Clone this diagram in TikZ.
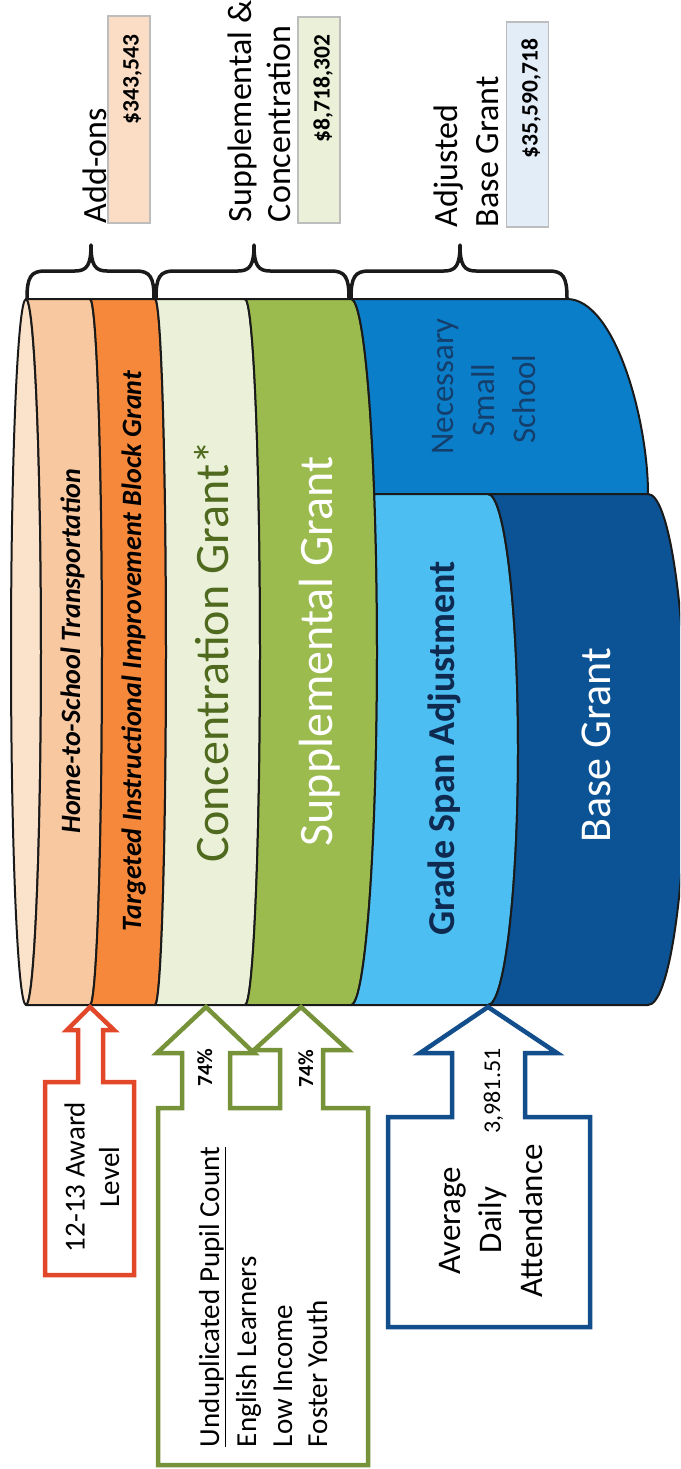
\documentclass[tikz,border=0pt]{standalone}
\usepackage{fontspec}
\setmainfont{Carlito}
\definecolor{capfill}{HTML}{FBE2CB}
\definecolor{homefill}{HTML}{F8C8A0}
\definecolor{tibgfill}{HTML}{F5883A}
\definecolor{concfill}{HTML}{EBF0D9}
\definecolor{suppfill}{HTML}{9BBB4F}
\definecolor{nssfill}{HTML}{0B7ECA}
\definecolor{gsfill}{HTML}{4DBEF1}
\definecolor{bgfill}{HTML}{0B5394}
\definecolor{concgreen}{HTML}{4F6A1E}
\definecolor{nsstext}{HTML}{143F6C}
\definecolor{gstext}{HTML}{0E2A50}
\definecolor{arrowred}{HTML}{E2472A}
\definecolor{arrowgreen}{HTML}{76933A}
\definecolor{arrowblue}{HTML}{124E8B}
\definecolor{addbox}{HTML}{FADDC4}
\definecolor{suppbox}{HTML}{EAF1D8}
\definecolor{basebox}{HTML}{E3EDF8}
\definecolor{boxedge}{HTML}{BDBDBD}
\definecolor{edgecol}{HTML}{1A1A1A}
\newcommand{\fsz}[1]{\fontsize{#1}{#1}\selectfont}
\tikzset{
  vtext/.style={rotate=90, inner sep=0pt, outer sep=0pt},
  band/.style={draw=edgecol, line width=2pt, line join=round},
  brc/.style={draw=edgecol, line width=3.5pt, line cap=round, line join=round},
  valbox/.style={draw=boxedge, line width=1.2pt},
  callout/.style={fill=white, line width=4.5pt, line join=miter},
}
\begin{document}
\begin{tikzpicture}[x=1pt,y=-1pt]
\useasboundingbox (0,0) rectangle (680,1469);
\fill[white] (0,0) rectangle (680,1469);
\clip (0,0) rectangle (680,1469);

% ---------- cylinder ----------
\path[band, fill=capfill] (26,652) ellipse [x radius=15, y radius=353];
\path[band, fill=homefill] (26,299) -- (90,299) arc[start angle=-90, end angle=90, x radius=12, y radius=353]
  -- (26,1005) arc[start angle=90, end angle=-90, x radius=15, y radius=353] -- cycle;
\path[band, fill=tibgfill] (90,299) -- (155,299) arc[start angle=-90, end angle=90, x radius=11, y radius=353]
  -- (90,1005) arc[start angle=90, end angle=-90, x radius=12, y radius=353] -- cycle;
\path[band, fill=concfill] (155,299) -- (245,299) arc[start angle=-90, end angle=90, x radius=15, y radius=353]
  -- (155,1005) arc[start angle=90, end angle=-90, x radius=11, y radius=353] -- cycle;
\path[band, fill=suppfill] (245,299) -- (351,299) arc[start angle=-90, end angle=90, x radius=26, y radius=353]
  -- (245,1005) arc[start angle=90, end angle=-90, x radius=15, y radius=353] -- cycle;
\path[band, fill=nssfill] (351,299) -- (567,299) .. controls (615,299) and (648,420) .. (648,494)
  -- (374.25,494) arc[start angle=-26.59, end angle=-90, x radius=26, y radius=353] -- cycle;
\path[band, fill=gsfill] (374.25,494) -- (488,494) arc[start angle=-90, end angle=90, x radius=30, y radius=255.5]
  -- (351,1005) arc[start angle=90, end angle=-26.59, x radius=26, y radius=353] -- cycle;
\path[band, fill=bgfill] (488,494) -- (648,494) arc[start angle=-90, end angle=90, x radius=38, y radius=255.5]
  -- (488,1005) arc[start angle=90, end angle=-90, x radius=30, y radius=255.5] -- cycle;

% band labels
\node[vtext, anchor=base, font=\bfseries\itshape\fsz{28}] (home) at (80,651) {Home-to-School Transportation};
\node[vtext, anchor=base, font=\bfseries\itshape\fsz{28}] (tiibg) at (141,651) {Targeted Instructional Improvement Block Grant};
\node[vtext, anchor=base, font=\fsz{48}, text=concgreen] (conc) at (228,651.5) {Concentration Grant*};
\node[vtext, anchor=base, font=\fsz{48}, text=white] (supp) at (332,651.5) {Supplemental Grant};
\node[vtext, anchor=base, font=\fsz{33}, text=nsstext] (nss1) at (453,386.5) {Necessary};
\node[vtext, anchor=base, font=\fsz{33}, text=nsstext] (nss2) at (494,400) {Small};
\node[vtext, anchor=base, font=\fsz{33}, text=nsstext] (nss3) at (535,399) {School};
\node[vtext, anchor=base, font=\bfseries\fsz{38}, text=gstext] (gs) at (454,748.5) {Grade Span Adjustment};
\node[vtext, anchor=base, font=\fsz{44}, text=white] (bg) at (610,745) {Base Grant};

% ---------- braces ----------
\draw[brc] (27,298) .. controls (27,277) and (31,271) .. (45,271) -- (75,271)
  .. controls (87,271) and (91,265) .. (91,245) .. controls (91,265) and (95,271) .. (107,271)
  -- (136,271) .. controls (150,271) and (154,277) .. (154,298);
\draw[brc] (156,298) .. controls (156,277) and (160,271) .. (174,271) -- (238,271)
  .. controls (250,271) and (254,265) .. (254,245) .. controls (254,265) and (258,271) .. (270,271)
  -- (331,271) .. controls (345,271) and (349,277) .. (349,298);
\draw[brc] (351,298) .. controls (351,277) and (355,271) .. (369,271) -- (444,271)
  .. controls (456,271) and (460,265) .. (460,245) .. controls (460,265) and (464,271) .. (476,271)
  -- (549,271) .. controls (563,271) and (567,277) .. (567,298);

% ---------- top labels and values ----------
\node[vtext, anchor=base west, font=\fsz{34}] (addons) at (106,223) {Add-ons};
\draw[valbox, fill=addbox] (108,16) rectangle (150,223);
\node[vtext, anchor=base east, font=\bfseries\fsz{23.5}] (v1) at (138.5,35) {\$343,543};

\node[vtext, anchor=base west, font=\fsz{34}] (sc1) at (251,222) {Supplemental \&};
\node[vtext, anchor=base west, font=\fsz{34}] (sc2) at (290,222) {Concentration};
\draw[valbox, fill=suppbox] (298,17) rectangle (340,223);
\node[vtext, anchor=base east, font=\bfseries\fsz{23.5}] (v2) at (329.5,35) {\$8,718,302};

\node[vtext, anchor=base west, font=\fsz{34}] (ab1) at (457,227) {Adjusted};
\node[vtext, anchor=base west, font=\fsz{34}] (ab2) at (498.5,227) {Base Grant};
\draw[valbox, fill=basebox] (506.5,22) rectangle (548.5,227);
\node[vtext, anchor=base east, font=\bfseries\fsz{23.5}] (v3) at (537.5,39) {\$35,590,718};

% ---------- bottom callouts ----------
\path[callout, draw=arrowred] (45,1275) -- (45,1082) -- (78,1082) -- (78,1030) -- (67,1030) -- (90,1007)
  -- (114,1030) -- (103,1030) -- (103,1082) -- (134,1082) -- (134,1275) -- cycle;
\node[vtext, anchor=base, font=\fsz{29}] (aw1) at (84.5,1177) {12-13 Award};
\node[vtext, anchor=base, font=\fsz{29}] (aw2) at (119,1177) {Level};

\path[callout, draw=arrowgreen] (158,1465) -- (158,1108) -- (182,1108) -- (182,1053) -- (157,1053) -- (206,1007)
  -- (254,1053) -- (230,1053) -- (230,1108) -- (280,1108) -- (280,1050) -- (254,1050) -- (301,1007)
  -- (348,1050) -- (323,1050) -- (323,1108) -- (368,1108) -- (368,1465) -- cycle;
\node[vtext, anchor=base, font=\bfseries\fsz{21.5}] (p1) at (212,1068) {74\%};
\node[vtext, anchor=base, font=\bfseries\fsz{21.5}] (p2) at (313,1069) {74\%};
\node[vtext, anchor=base west, font=\fsz{29}] (u1) at (219,1447) {\underline{Unduplicated Pupil Count}};
\node[vtext, anchor=base west, font=\fsz{29}] (u2) at (256,1447) {English Learners};
\node[vtext, anchor=base west, font=\fsz{29}] (u3) at (292,1447) {Low Income};
\node[vtext, anchor=base west, font=\fsz{29}] (u4) at (327,1447) {Foster Youth};

\path[callout, draw=arrowblue] (388,1327) -- (388,1117) -- (452,1117) -- (452,1053) -- (420,1053) -- (488,1007)
  -- (557,1053) -- (525,1053) -- (525,1117) -- (590,1117) -- (590,1327) -- cycle;
\node[vtext, anchor=base, font=\fsz{24}] (ada) at (500,1091) {3,981.51};
\node[vtext, anchor=base, font=\fsz{33}] (a1) at (460,1221) {Average};
\node[vtext, anchor=base, font=\fsz{33}] (a2) at (501,1220) {Daily};
\node[vtext, anchor=base, font=\fsz{33}] (a3) at (542,1221) {Attendance};
\end{tikzpicture}
\end{document}
